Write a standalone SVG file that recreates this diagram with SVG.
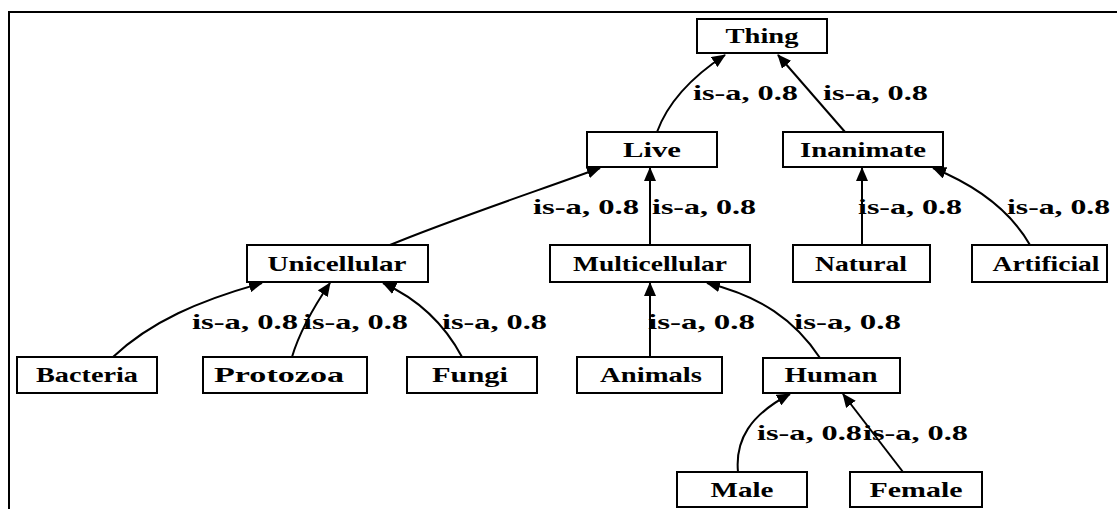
<svg xmlns="http://www.w3.org/2000/svg" width="1117" height="509" viewBox="0 0 1117 509">
  <style>
    .node rect { fill: #ffffff; stroke: #000000; stroke-width: 2; }
    .node text { font-family: "Liberation Serif", "Times New Roman", serif; font-size: 21px; font-weight: bold; fill: #000000; text-anchor: middle; }
    .edge { fill: none; stroke: #000000; stroke-width: 2; marker-end: url(#arrow); }
    .lbl { font-family: "Liberation Serif", "Times New Roman", serif; font-size: 21px; font-weight: bold; fill: #000000; }
    .frame { stroke: #000000; stroke-width: 2; fill: none; }
  </style>
  <defs>
    <marker id="arrow" markerUnits="userSpaceOnUse" markerWidth="14" markerHeight="12" refX="13" refY="6" orient="auto">
      <path d="M0,0 L14,6 L0,12 z" fill="#000000"/>
    </marker>
  </defs>
  <rect width="1117" height="509" fill="#ffffff"/>
  <path class="frame" d="M9,509 L9,12 L1117,12"/>

  <!-- connectors -->
  <g id="edges">
    <path class="edge" d="M657,132 C668,102 690,78 725,55"/>
    <path class="edge" d="M845,132 L778,55"/>
    <path class="edge" d="M390,245 C450,220 540,190 600,168"/>
    <path class="edge" d="M650,245 L650,168"/>
    <path class="edge" d="M862,245 L862,168"/>
    <path class="edge" d="M1030,245 C1010,210 975,185 933,168"/>
    <path class="edge" d="M113,357 C150,322 200,300 262,283"/>
    <path class="edge" d="M292,357 C300,330 315,305 330,283"/>
    <path class="edge" d="M462,357 C445,325 420,300 383,283"/>
    <path class="edge" d="M650,357 L650,283"/>
    <path class="edge" d="M820,358 C795,320 760,296 707,283"/>
    <path class="edge" d="M738,472 C735,440 750,415 790,394"/>
    <path class="edge" d="M903,472 L843,394"/>

    <text class="lbl" x="693" y="100" textLength="105" lengthAdjust="spacingAndGlyphs">is-a, 0.8</text>
    <text class="lbl" x="823" y="100" textLength="105" lengthAdjust="spacingAndGlyphs">is-a, 0.8</text>
    <text class="lbl" x="533" y="214" textLength="106" lengthAdjust="spacingAndGlyphs">is-a, 0.8</text>
    <text class="lbl" x="652" y="214" textLength="104" lengthAdjust="spacingAndGlyphs">is-a, 0.8</text>
    <text class="lbl" x="858" y="214" textLength="104" lengthAdjust="spacingAndGlyphs">is-a, 0.8</text>
    <text class="lbl" x="1007" y="214" textLength="103" lengthAdjust="spacingAndGlyphs">is-a, 0.8</text>
    <text class="lbl" x="192" y="329" textLength="106" lengthAdjust="spacingAndGlyphs">is-a, 0.8</text>
    <text class="lbl" x="303" y="329" textLength="105" lengthAdjust="spacingAndGlyphs">is-a, 0.8</text>
    <text class="lbl" x="442" y="329" textLength="105" lengthAdjust="spacingAndGlyphs">is-a, 0.8</text>
    <text class="lbl" x="648" y="329" textLength="107" lengthAdjust="spacingAndGlyphs">is-a, 0.8</text>
    <text class="lbl" x="794" y="329" textLength="107" lengthAdjust="spacingAndGlyphs">is-a, 0.8</text>
    <text class="lbl" x="757" y="440" textLength="105" lengthAdjust="spacingAndGlyphs">is-a, 0.8</text>
    <text class="lbl" x="863" y="440" textLength="105" lengthAdjust="spacingAndGlyphs">is-a, 0.8</text>
  </g>

  <!-- nodes -->
  <g id="thing" class="node"><rect x="697" y="19" width="130" height="34"/><text x="762" y="43" textLength="73" lengthAdjust="spacingAndGlyphs">Thing</text></g>
  <g id="live" class="node"><rect x="587" y="132" width="130" height="35"/><text x="652" y="157" textLength="58" lengthAdjust="spacingAndGlyphs">Live</text></g>
  <g id="inanimate" class="node"><rect x="783" y="132" width="160" height="35"/><text x="863" y="157" textLength="126" lengthAdjust="spacingAndGlyphs">Inanimate</text></g>
  <g id="unicellular" class="node"><rect x="247" y="245" width="181" height="37"/><text x="337" y="271" textLength="139" lengthAdjust="spacingAndGlyphs">Unicellular</text></g>
  <g id="multicellular" class="node"><rect x="550" y="245" width="200" height="37"/><text x="650" y="271" textLength="154" lengthAdjust="spacingAndGlyphs">Multicellular</text></g>
  <g id="natural" class="node"><rect x="793" y="245" width="137" height="37"/><text x="861" y="271" textLength="92" lengthAdjust="spacingAndGlyphs">Natural</text></g>
  <g id="artificial" class="node"><rect x="972" y="245" width="135" height="37"/><text x="1046" y="271" textLength="107" lengthAdjust="spacingAndGlyphs">Artificial</text></g>
  <g id="bacteria" class="node"><rect x="17" y="357" width="140" height="36"/><text x="87" y="382" textLength="102" lengthAdjust="spacingAndGlyphs">Bacteria</text></g>
  <g id="protozoa" class="node"><rect x="203" y="357" width="164" height="36"/><text x="279" y="382" textLength="130" lengthAdjust="spacingAndGlyphs">Protozoa</text></g>
  <g id="fungi" class="node"><rect x="407" y="357" width="130" height="36"/><text x="470" y="382" textLength="76" lengthAdjust="spacingAndGlyphs">Fungi</text></g>
  <g id="animals" class="node"><rect x="577" y="357" width="145" height="36"/><text x="651" y="382" textLength="102" lengthAdjust="spacingAndGlyphs">Animals</text></g>
  <g id="human" class="node"><rect x="763" y="358" width="137" height="35"/><text x="831" y="382" textLength="93" lengthAdjust="spacingAndGlyphs">Human</text></g>
  <g id="male" class="node"><rect x="677" y="472" width="130" height="35"/><text x="742" y="497" textLength="63" lengthAdjust="spacingAndGlyphs">Male</text></g>
  <g id="female" class="node"><rect x="850" y="472" width="132" height="35"/><text x="916" y="497" textLength="93" lengthAdjust="spacingAndGlyphs">Female</text></g>
</svg>
